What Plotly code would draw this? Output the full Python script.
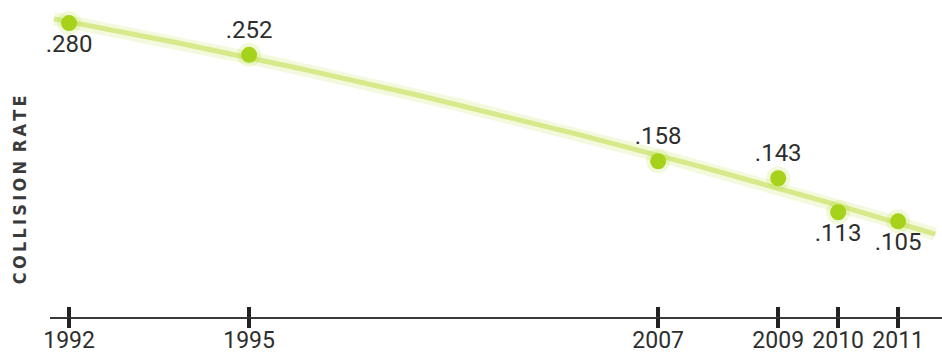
import numpy as np
import pandas as pd
import plotly.graph_objects as go

# Collision rate by year
years = [1992, 1995, 2007, 2009, 2010, 2011]
rates = [0.280, 0.252, 0.158, 0.143, 0.113, 0.105]
rate_labels = [".280", ".252", ".158", ".143", ".113", ".105"]
label_sides = ["bottom center", "top center", "top center", "top center",
               "bottom center", "bottom center"]
tick_labels = [str(y) for y in years]

FONT = "Roboto, Arial, sans-serif"

# time axis: visible span plus a compressed stretch inside the 1995-2007 gap
X_START, X_END = 1991.683, 2011.733
GAP_START, GAP_END = 1998.408, 2003.592
Y_RANGE = [0.0205, 0.3004]


def year_to_date(y):
    """Fractional year -> ISO date string for the date axis."""
    base = pd.Timestamp(int(np.floor(y)), 1, 1)
    return (base + pd.Timedelta(days=(y - np.floor(y)) * 365.25)).strftime("%Y-%m-%d")


def to_display(y):
    """Year -> position along the shown axis (gap removed)."""
    y = np.asarray(y, dtype=float)
    return np.where(y >= GAP_END, y - (GAP_END - GAP_START), y)


def from_display(s):
    s = np.asarray(s, dtype=float)
    return np.where(s >= GAP_START, s + (GAP_END - GAP_START), s)


dates = [year_to_date(y) for y in years]

# smooth quadratic trend fitted along the shown axis
coef = np.polyfit(to_display(years), rates, 2)
s_line = np.linspace(to_display(1991.75), to_display(2011.62), 300)
trend_x = [year_to_date(t) for t in from_display(s_line)]
trend_y = np.polyval(coef, s_line)

fig = go.Figure()

# soft halo + core of the trend line
fig.add_trace(go.Scatter(x=trend_x, y=trend_y, mode="lines",
                         line=dict(color="rgba(215,234,140,0.30)", width=13),
                         hoverinfo="skip", showlegend=False))
fig.add_trace(go.Scatter(x=trend_x, y=trend_y, mode="lines",
                         line=dict(color="rgba(212,232,130,0.9)", width=5),
                         hoverinfo="skip", showlegend=False))

# glowing points with their value labels
fig.add_trace(go.Scatter(x=dates, y=rates, mode="markers",
                         marker=dict(size=24, color="rgba(180,220,50,0.18)"),
                         hoverinfo="skip", showlegend=False, cliponaxis=False))
fig.add_trace(go.Scatter(x=dates, y=rates, mode="markers+text",
                         marker=dict(size=16, color="#a6d21c"),
                         text=rate_labels, textposition=label_sides,
                         textfont=dict(family=FONT, size=24, color="#2e2e2e"),
                         showlegend=False, cliponaxis=False))
# anchors the overlay axis that carries the lower tick half and the labels
fig.add_trace(go.Scatter(x=[dates[0]], y=[None], xaxis="x2", showlegend=False,
                         hoverinfo="skip"))

common_x = dict(type="date", range=[year_to_date(X_START), year_to_date(X_END)],
                rangebreaks=[dict(bounds=[year_to_date(GAP_START), year_to_date(GAP_END)])],
                tickmode="array", tickvals=dates, ticktext=tick_labels,
                tickwidth=4, tickcolor="#222", showgrid=False, zeroline=False,
                automargin=False, tickangle=0)

fig.update_layout(
    width=942, height=356,
    margin=dict(l=50, r=0, t=0, b=39),
    paper_bgcolor="white", plot_bgcolor="white",
    xaxis=dict(**common_x, showticklabels=False, ticks="inside", ticklen=10,
               showline=True, linecolor="#3a3a3a", linewidth=2),
    xaxis2=dict(**common_x, overlaying="x", side="bottom", anchor="y",
                ticks="outside", ticklen=10, showline=False, ticklabelstandoff=-8,
                tickfont=dict(family=FONT, size=23, color="#2e2e2e")),
    yaxis=dict(range=Y_RANGE, visible=False),
    annotations=[dict(text="C\u2009O\u2009L\u2009L\u2009I\u2009S\u2009I\u2009O\u2009N \u2009R\u2009A\u2009T\u2009E",
                      textangle=-90, xref="paper", yref="paper", x=0, y=0.40,
                      xshift=-31, xanchor="center", yanchor="middle", showarrow=False,
                      font=dict(family="DejaVu Sans Condensed, DejaVu Sans", size=18,
                                color="#3a3a3a", weight="bold"))],
)

fig.write_html("out.html")
